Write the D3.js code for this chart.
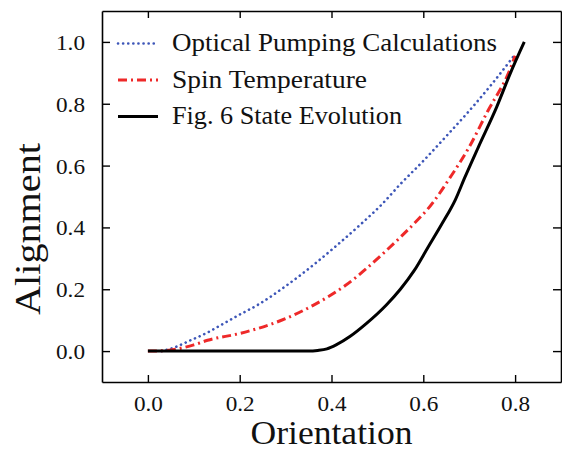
<!DOCTYPE html>
<html><head><meta charset="utf-8">
<script src="https://cdn.jsdelivr.net/npm/d3@7"></script>
<style>body{margin:0;background:#fff}svg{display:block}text{font-family:"Liberation Serif","Times New Roman",serif;fill:#111}</style>
</head><body><svg id="c" width="562" height="452"></svg>
<script>
const xTicks = [0.0, 0.2, 0.4, 0.6, 0.8];
const yTicks = [0.0, 0.2, 0.4, 0.6, 0.8, 1.0];
const seriesNames = ["Optical Pumping Calculations", "Spin Temperature", "Fig. 6 State Evolution"];
const opticalPumping = [[0.03,0],[0.06,0.013],[0.09,0.033],[0.13,0.06],[0.165,0.089],[0.2,0.118],[0.24,0.15],[0.3,0.21],[0.37,0.29],[0.41,0.34],[0.465,0.412],[0.51,0.475],[0.55,0.54],[0.6,0.615],[0.65,0.695],[0.7,0.777],[0.75,0.865],[0.8,0.96]];
const spinTemperature = [[0,0],[0.03,0.001],[0.06,0.006],[0.1,0.02],[0.13,0.035],[0.2,0.057],[0.27,0.088],[0.3,0.105],[0.36,0.148],[0.43,0.212],[0.52,0.326],[0.59,0.428],[0.61,0.46],[0.66,0.565],[0.7,0.66],[0.74,0.775],[0.79,0.915],[0.80,0.955]];
const stateEvolution = [[0,0],[0.1,0],[0.2,0],[0.3,0],[0.35,0],[0.37,0.002],[0.39,0.007],[0.41,0.02],[0.44,0.047],[0.475,0.088],[0.52,0.15],[0.55,0.2],[0.58,0.26],[0.61,0.335],[0.64,0.41],[0.67,0.49],[0.69,0.56],[0.72,0.66],[0.76,0.79],[0.79,0.9],[0.82,1.0]];

const svg = d3.select("#c");
const L = 102, R = 561, T = 11, B = 382;
const x = d3.scaleLinear().domain([-0.1, 0.9]).range([L, R]);
const y = d3.scaleLinear().domain([-0.1, 1.1]).range([B, T]);

const styles = [
  {stroke:"#3d56b8", width:2.6, dash:"0.1 5", cap:"round"},
  {stroke:"#ee2929", width:3, dash:"9 4 2 4", cap:"butt"},
  {stroke:"#000", width:3, dash:null, cap:"butt"}
];
const data = [opticalPumping, spinTemperature, stateEvolution];

const line = d3.line().x(d=>x(d[0])).y(d=>y(d[1])).curve(d3.curveMonotoneX);
const plot = svg.append("g");
plot.append("defs").append("clipPath").attr("id","cp").append("rect").attr("x",L).attr("y",T).attr("width",R-L).attr("height",B-T);
data.forEach((d,i)=>{
  plot.append("path").datum(d).attr("d",line).attr("fill","none")
    .attr("stroke",styles[i].stroke).attr("stroke-width",styles[i].width)
    .attr("stroke-dasharray",styles[i].dash).attr("stroke-linecap",styles[i].cap)
    .attr("stroke-linejoin","round").attr("clip-path","url(#cp)");
});

const SERIF = "Liberation Serif, Times New Roman, serif";
function styleAxis(g){
  g.attr("font-family", SERIF).attr("font-size", 22);
  g.selectAll(".domain").attr("stroke","#000").attr("stroke-width",1.6);
  g.selectAll(".tick line").attr("stroke","#000").attr("stroke-width",1.4);
  g.selectAll(".tick text").attr("font-family", SERIF).attr("font-size", 22)
    .style("font-family", SERIF).style("font-size","22px").attr("fill","#111");
}
const gb = svg.append("g").attr("transform",`translate(0,${B})`)
  .call(d3.axisBottom(x).tickValues(xTicks).tickSize(-7).tickSizeOuter(0).tickPadding(17).tickFormat(d3.format(".1f")));
styleAxis(gb);
const gt = svg.append("g").attr("transform",`translate(0,${T})`)
  .call(d3.axisTop(x).tickValues(xTicks).tickSize(-7).tickSizeOuter(0).tickFormat(""));
styleAxis(gt);
const gl = svg.append("g").attr("transform",`translate(${L},0)`)
  .call(d3.axisLeft(y).tickValues(yTicks).tickSize(-8).tickSizeOuter(0).tickPadding(17).tickFormat(d3.format(".1f")));
styleAxis(gl);
const gr = svg.append("g").attr("transform",`translate(${R},0)`)
  .call(d3.axisRight(y).tickValues(yTicks).tickSize(-8).tickSizeOuter(0).tickFormat(""));
styleAxis(gr);
gb.selectAll(".tick text").attr("dy","0.55em").attr("textLength",29).attr("lengthAdjust","spacingAndGlyphs");
gl.selectAll(".tick text").attr("dy","0.34em").attr("textLength",29).attr("lengthAdjust","spacingAndGlyphs");

// axis titles
svg.append("text").attr("x",(L+R)/2).attr("y",444).attr("text-anchor","middle")
  .style("font-size","33px").attr("textLength",162).attr("lengthAdjust","spacingAndGlyphs").text("Orientation");
svg.append("text").attr("transform","translate(40,229) rotate(-90)").attr("text-anchor","middle")
  .style("font-size","35px").attr("textLength",172).attr("lengthAdjust","spacingAndGlyphs").text("Alignment");

// legend
const legY = [43.5, 80, 116.5];
const legW = [325, 195, 230];
seriesNames.forEach((n,i)=>{
  svg.append("line").attr("x1",118).attr("x2",158).attr("y1",legY[i]).attr("y2",legY[i])
    .attr("stroke",styles[i].stroke).attr("stroke-width",styles[i].width)
    .attr("stroke-dasharray",styles[i].dash).attr("stroke-linecap",styles[i].cap);
  svg.append("text").attr("x",172).attr("y",legY[i]+7.5).style("font-size","25px")
    .attr("textLength",legW[i]).attr("lengthAdjust","spacingAndGlyphs").text(n);
});
</script></body></html>
